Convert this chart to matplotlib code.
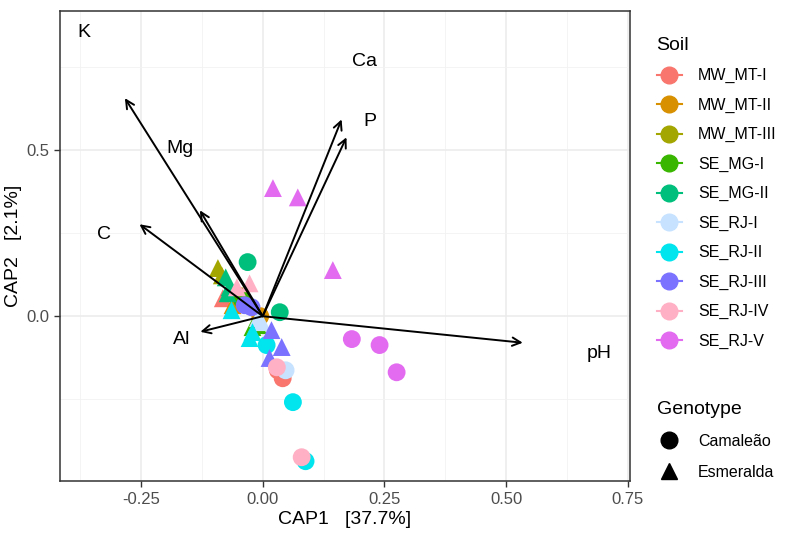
import numpy as np
import matplotlib.pyplot as plt
from matplotlib.lines import Line2D

plt.rcParams['font.family'] = ['Liberation Sans', 'DejaVu Sans']

soils = ['MW_MT-I', 'MW_MT-II', 'MW_MT-III', 'SE_MG-I', 'SE_MG-II',
         'SE_RJ-I', 'SE_RJ-II', 'SE_RJ-III', 'SE_RJ-IV', 'SE_RJ-V']
soil_colors = ['#F8766D', '#D89000', '#A3A500', '#39B600', '#00BF7D',
               '#C6E2FF', '#00E5EE', '#7B73FF', '#FFB0C4', '#E26BF0']
genotypes = ['Camaleão', 'Esmeralda']

# sample scores (soil index, genotype index, CAP1, CAP2)
pt_soil = [0, 0, 0, 0,
           1, 1,
           2, 2, 2,
           3, 3, 3,
           4, 4, 4, 4, 4,
           5, 5, 5,
           6, 6, 6, 6, 6, 6,
           7, 7, 7, 7, 7,
           8, 8, 8, 8,
           9, 9, 9, 9, 9, 9]
pt_geno = [1, 1, 0, 0,
           1, 0,
           1, 1, 0,
           0, 1, 1,
           0, 0, 1, 1, 1,
           1, 1, 0,
           0, 0, 0, 1, 1, 1,
           0, 0, 1, 1, 1,
           1, 1, 0, 0,
           1, 1, 1, 0, 0, 0]
pt_x = [-0.082, -0.068, 0.041, 0.031,
        -0.062, -0.005,
        -0.092, -0.084, -0.045,
        -0.043, -0.021, -0.010,
        -0.031, 0.035, -0.076, -0.068, -0.072,
        -0.002, -0.010, 0.047,
        0.008, 0.062, 0.088, -0.021, -0.064, -0.027,
        -0.023, -0.037, 0.039, 0.014, 0.018,
        -0.027, -0.053, 0.029, 0.080,
        0.021, 0.072, 0.144, 0.183, 0.240, 0.275]
pt_y = [0.054, 0.078, -0.187, -0.163,
        0.033, 0.000,
        0.145, 0.123, 0.060,
        0.051, -0.033, -0.027,
        0.163, 0.012, 0.117, 0.087, 0.069,
        -0.018, -0.006, -0.163,
        -0.087, -0.259, -0.437, -0.048, 0.018, -0.066,
        0.027, 0.033, -0.093, -0.126, -0.042,
        0.099, 0.087, -0.154, -0.425,
        0.386, 0.358, 0.139, -0.069, -0.087, -0.169]

# environmental vectors
env_names = ['K', 'Ca', 'P', 'Mg', 'C', 'Al', 'pH']
env_x = [-0.283, 0.162, 0.172, -0.129, -0.253, -0.128, 0.534]
env_y = [0.657, 0.593, 0.539, 0.319, 0.277, -0.047, -0.080]
lab_x = [-0.367, 0.209, 0.221, -0.170, -0.326, -0.166, 0.692]
lab_y = [0.855, 0.767, 0.587, 0.506, 0.247, -0.069, -0.111]

fig = plt.figure(figsize=(7.85, 5.34), dpi=100)
ax = fig.add_axes([0.076, 0.099, 0.727, 0.880])

markers = ['o', '^']
for i in range(len(pt_x)):
    ax.scatter(pt_x[i], pt_y[i], s=165, marker=markers[pt_geno[i]],
               color=soil_colors[pt_soil[i]], edgecolors='none', zorder=3)

for i in range(len(env_names)):
    ax.annotate('', xy=(env_x[i], env_y[i]), xytext=(0, 0),
                arrowprops=dict(arrowstyle='->, head_length=0.6, head_width=0.3',
                                color='black', lw=1.4, shrinkA=0, shrinkB=0,
                                mutation_scale=10), zorder=4)
    ax.text(lab_x[i], lab_y[i], env_names[i], fontsize=14, ha='center',
            va='center', color='black', zorder=5)

ax.set_xlim(-0.417, 0.755)
ax.set_ylim(-0.497, 0.919)
ax.set_xticks([-0.25, 0.0, 0.25, 0.5, 0.75])
ax.set_xticklabels(['-0.25', '0.00', '0.25', '0.50', '0.75'])
ax.set_yticks([0.0, 0.5])
ax.set_yticklabels(['0.0', '0.5'])
ax.set_xticks([-0.375, -0.125, 0.125, 0.375, 0.625], minor=True)
ax.set_yticks([-0.25, 0.25, 0.75], minor=True)
ax.grid(True, which='major', color='#EBEBEB', lw=1.1, zorder=0)
ax.grid(True, which='minor', color='#F2F2F2', lw=0.6, zorder=0)
ax.set_axisbelow(True)
ax.tick_params(which='major', length=4, width=1, color='#333333',
               labelcolor='#4D4D4D', labelsize=12)
ax.tick_params(which='minor', length=0)
for s in ax.spines.values():
    s.set_color('#333333')
    s.set_linewidth(1.1)
ax.set_xlabel('CAP1   [37.7%]', fontsize=14, labelpad=3)
ax.set_ylabel('CAP2   [2.1%]', fontsize=14, labelpad=3)

soil_handles = [Line2D([0], [0], color=c, marker='o', markersize=12, lw=1.5)
                for c in soil_colors]
leg1 = fig.legend(soil_handles, soils, loc='upper left',
                  bbox_to_anchor=(0.818, 0.958), frameon=False, title='Soil',
                  title_fontsize=14, fontsize=11.5, labelspacing=0.9,
                  handlelength=1.6, handletextpad=1.0, alignment='left')
geno_handles = [Line2D([0], [0], color='black', marker=m, markersize=12, lw=0)
                for m in markers]
leg2 = fig.legend(geno_handles, genotypes, loc='upper left',
                  bbox_to_anchor=(0.818, 0.276), frameon=False, title='Genotype',
                  title_fontsize=14, fontsize=11.5, labelspacing=1.0,
                  handlelength=1.6, handletextpad=1.0, alignment='left')

fig.savefig('out.png', dpi=100)
